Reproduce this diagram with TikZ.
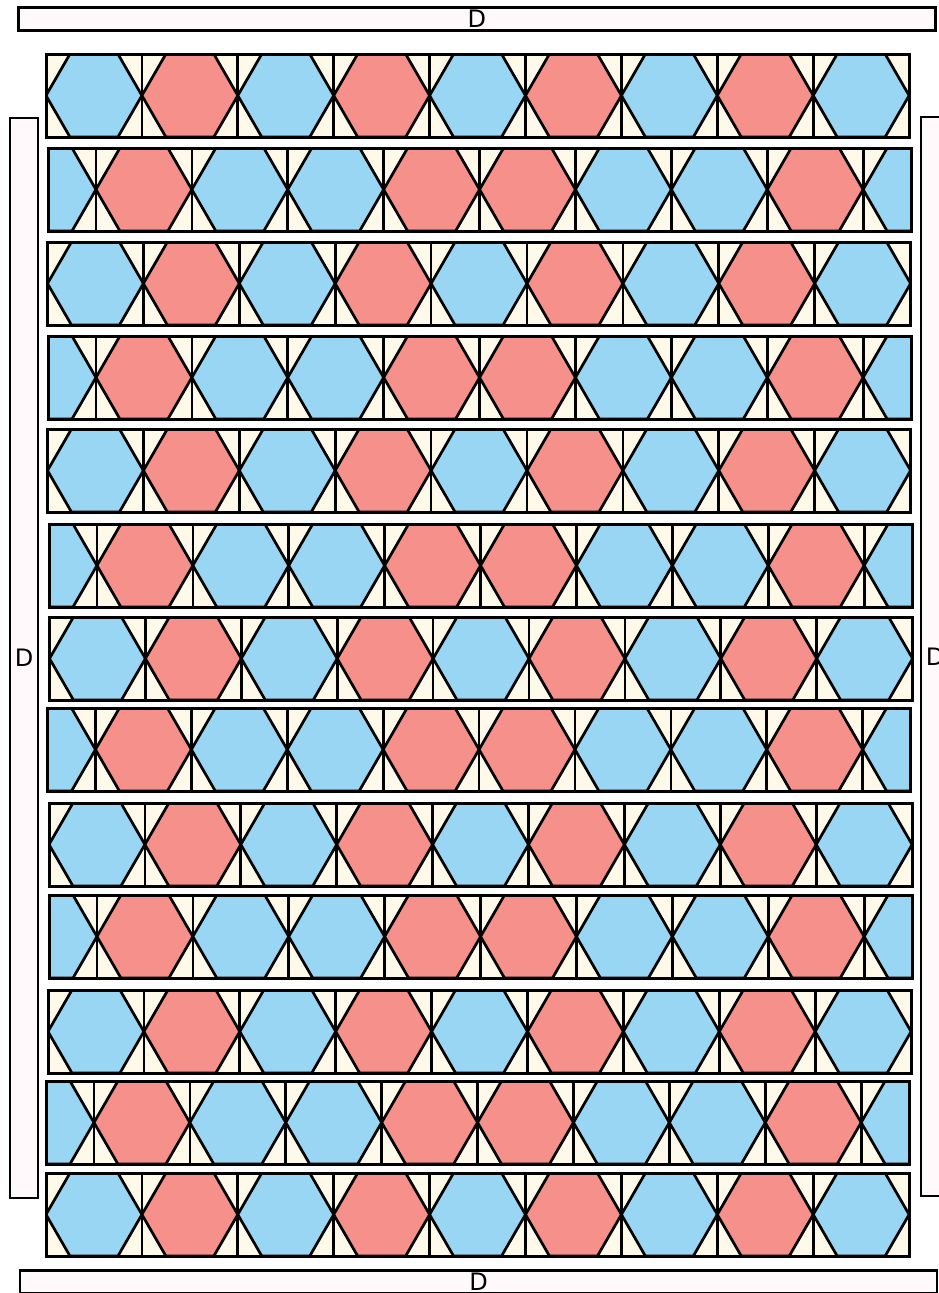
\documentclass[tikz,border=0pt]{standalone}
\usepackage{fontspec}
\setmainfont{DejaVu Sans}
\definecolor{hexB}{HTML}{98D6F4}
\definecolor{hexR}{HTML}{F5908A}
\definecolor{cream}{HTML}{FFF9EA}
\definecolor{barfill}{HTML}{FFF9FB}
\newcommand\hw{95.9}
\newcommand\hh{83.05}
\newcommand\hs{47.95}
\newcommand\hq{23.975}
\newcommand\hexat[2]{%
  \filldraw[fill=#2] (#1-\hs,\hh/2) -- (#1-\hq,0) -- (#1+\hq,0) -- (#1+\hs,\hh/2) -- (#1+\hq,\hh) -- (#1-\hq,\hh) -- cycle;}
\newcommand\oddstrip[2]{%
  \begin{scope}[shift={(#1,#2)}]
    \fill[cream] (0,0) rectangle (9*\hw,\hh);
    \begin{scope}
      \clip (0,0) rectangle (9*\hw,\hh);
      \foreach \c [count=\i from 0] in {B,R,B,R,B,R,B,R,B} {\hexat{\hw/2+\i*\hw}{hex\c}}
    \end{scope}
    \foreach \i in {1,...,8} {\draw (\i*\hw,0) -- (\i*\hw,\hh);}
    \draw[line width=3pt] (0,0) rectangle (9*\hw,\hh);
  \end{scope}}
\newcommand\evenstrip[2]{%
  \begin{scope}[shift={(#1,#2)}]
    \fill[cream] (0,0) rectangle (9*\hw,\hh);
    \begin{scope}
      \clip (0,0) rectangle (9*\hw,\hh);
      \foreach \c [count=\i from 0] in {B,R,B,B,R,R,B,B,R,B} {\hexat{\i*\hw}{hex\c}}
    \end{scope}
    \foreach \i in {0,...,8} {\draw (\hw/2+\i*\hw,0) -- (\hw/2+\i*\hw,\hh);}
    \draw[line width=3pt] (0,0) rectangle (9*\hw,\hh);
  \end{scope}}
\begin{document}
\begin{tikzpicture}[x=1pt,y=-1pt,line width=2.7pt,
  bar/.style={draw,fill=barfill,line width=2.5pt,inner sep=0pt,font=\fontsize{24}{24}\selectfont}]
\useasboundingbox (0,0) rectangle (938,1293);
\oddstrip{46}{54}
\evenstrip{48}{148}
\oddstrip{47.5}{242}
\evenstrip{48}{336}
\oddstrip{47.5}{429}
\evenstrip{49}{524}
\oddstrip{49.5}{617}
\evenstrip{47.5}{708}
\oddstrip{49}{803}
\evenstrip{49}{895}
\oddstrip{48}{990}
\evenstrip{46}{1081}
\oddstrip{46}{1173}
\node[bar,minimum width=917pt,minimum height=23pt] (top) at (476.75,19) {D};
\node[bar,minimum width=917pt,minimum height=23pt] (bottom) at (478.5,1282) {D};
\node[bar,minimum width=28pt,minimum height=1080pt] (left) at (24,658) {D};
\node[bar,minimum width=28pt,minimum height=1079pt] (right) at (935,656.5) {D};
\end{tikzpicture}
\end{document}
